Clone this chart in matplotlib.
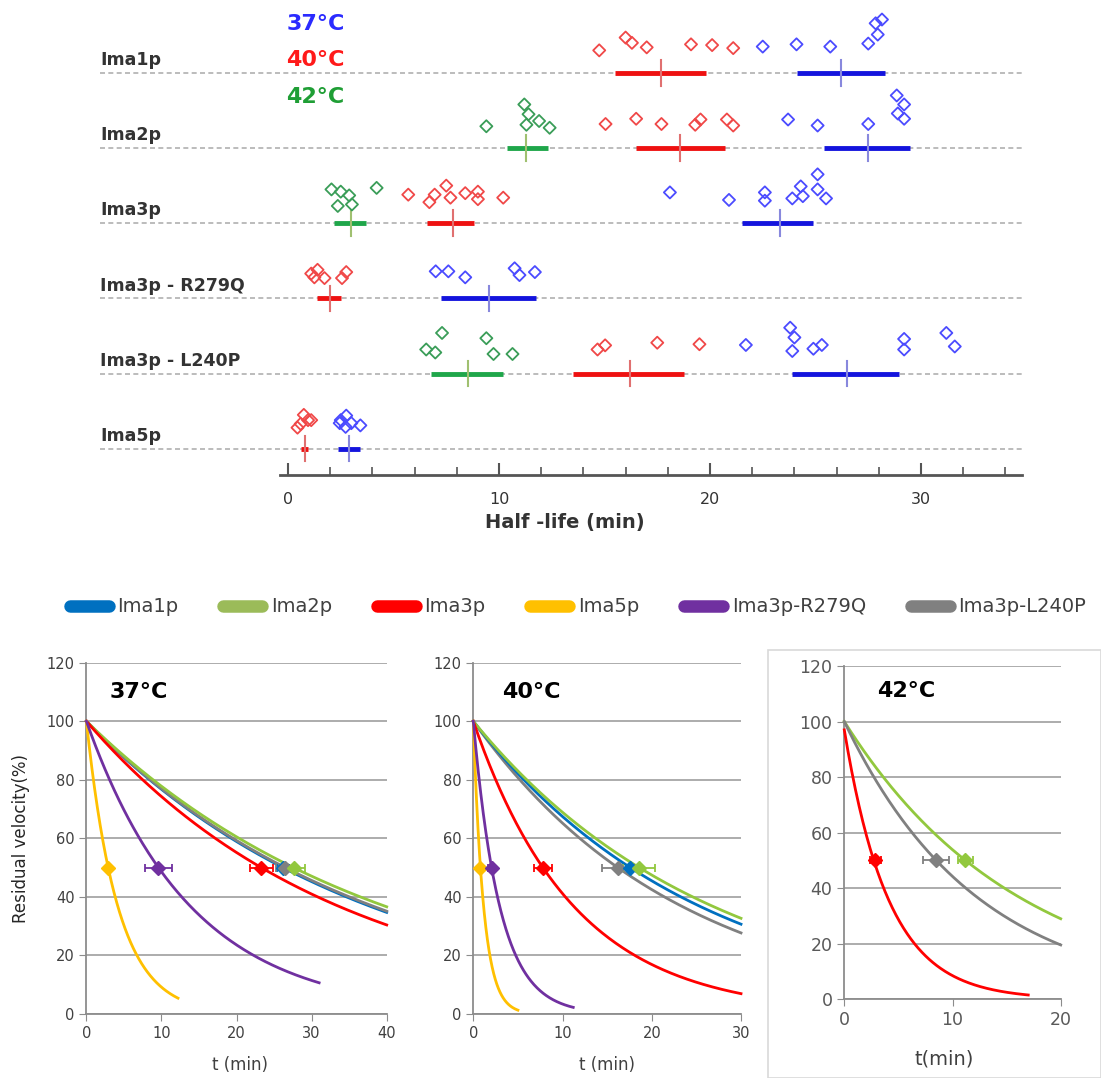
import numpy as np
import matplotlib.pyplot as plt
from matplotlib.lines import Line2D
from matplotlib.patches import Rectangle

#############################################
# strip plot data: half-lives (min) per strain
#############################################

rows = ["Ima1p", "Ima2p", "Ima3p", "Ima3p - R279Q", "Ima3p - L240P", "Ima5p"]

# individual measurements, 37 / 40 / 42 °C
pts37 = {
    "Ima1p": [22.5, 24.1, 25.7, 27.5, 27.95, 27.85, 28.15],
    "Ima2p": [23.7, 25.1, 27.5, 28.85, 29.2, 28.9, 29.2],
    "Ima3p": [18.1, 20.9, 22.6, 22.6, 23.9, 24.3, 24.4, 25.1, 25.1, 25.5],
    "Ima3p - R279Q": [7.0, 7.6, 8.4, 10.74, 10.97, 11.7],
    "Ima3p - L240P": [21.7, 23.8, 24.0, 23.9, 24.9, 25.3, 29.2, 29.2, 31.2, 31.6],
    "Ima5p": [2.45, 2.5, 2.76, 2.73, 3.0, 3.43],
}
pts40 = {
    "Ima1p": [14.75, 16.0, 16.3, 17.0, 19.1, 20.1, 21.1],
    "Ima2p": [15.05, 16.5, 17.7, 19.3, 19.55, 20.8, 21.1],
    "Ima3p": [5.7, 6.7, 6.95, 7.5, 7.7, 8.4, 9.0, 9.0, 10.2],
    "Ima3p - R279Q": [1.1, 1.25, 1.4, 1.73, 2.56, 2.76],
    "Ima3p - L240P": [14.67, 15.03, 17.5, 19.5],
    "Ima5p": [0.45, 0.6, 0.75, 0.95, 1.1],
}
pts42 = {
    "Ima2p": [9.4, 11.2, 11.4, 11.3, 11.9, 12.4],
    "Ima3p": [2.06, 2.5, 2.9, 2.36, 3.03, 4.2],
    "Ima3p - L240P": [6.55, 6.98, 7.3, 9.4, 9.74, 10.64],
}

# vertical jitter of the points above their row (row units)
jit37 = {
    "Ima1p": [0.35, 0.38, 0.35, 0.39, 0.51, 0.66, 0.71],
    "Ima2p": [0.38, 0.30, 0.32, 0.70, 0.58, 0.46, 0.39],
    "Ima3p": [0.41, 0.31, 0.41, 0.30, 0.33, 0.49, 0.36, 0.45, 0.65, 0.33],
    "Ima3p - R279Q": [0.36, 0.36, 0.28, 0.40, 0.31, 0.35],
    "Ima3p - L240P": [0.38, 0.61, 0.48, 0.30, 0.33, 0.38, 0.46, 0.32, 0.54, 0.36],
    "Ima5p": [0.34, 0.38, 0.44, 0.29, 0.34, 0.31],
}
jit40 = {
    "Ima1p": [0.30, 0.47, 0.40, 0.34, 0.38, 0.37, 0.33],
    "Ima2p": [0.32, 0.39, 0.32, 0.31, 0.38, 0.38, 0.30],
    "Ima3p": [0.38, 0.28, 0.38, 0.50, 0.34, 0.40, 0.42, 0.32, 0.34],
    "Ima3p - R279Q": [0.33, 0.28, 0.38, 0.27, 0.27, 0.35],
    "Ima3p - L240P": [0.32, 0.375, 0.41, 0.39],
    "Ima5p": [0.28, 0.33, 0.45, 0.38, 0.38],
}
jit42 = {
    "Ima2p": [0.29, 0.58, 0.45, 0.31, 0.36, 0.27],
    "Ima3p": [0.45, 0.42, 0.37, 0.23, 0.25, 0.47],
    "Ima3p - L240P": [0.32, 0.28, 0.54, 0.47, 0.26, 0.26],
}

# mean and spread bar (low, high)
mean37 = {"Ima1p": 26.2, "Ima2p": 27.5, "Ima3p": 23.3, "Ima3p - R279Q": 9.54,
          "Ima3p - L240P": 26.5, "Ima5p": 2.9}
bar37 = {"Ima1p": (24.1, 28.3), "Ima2p": (25.4, 29.5), "Ima3p": (21.5, 24.9),
         "Ima3p - R279Q": (7.25, 11.74), "Ima3p - L240P": (23.9, 28.97), "Ima5p": (2.36, 3.4)}
mean40 = {"Ima1p": 17.7, "Ima2p": 18.6, "Ima3p": 7.8, "Ima3p - R279Q": 2.0,
          "Ima3p - L240P": 16.2, "Ima5p": 0.8}
bar40 = {"Ima1p": (15.5, 19.8), "Ima2p": (16.5, 20.7), "Ima3p": (6.6, 8.8),
         "Ima3p - R279Q": (1.36, 2.53), "Ima3p - L240P": (13.5, 18.76), "Ima5p": (0.63, 0.93)}
mean42 = {"Ima2p": 11.3, "Ima3p": 3.0, "Ima3p - L240P": 8.55}
bar42 = {"Ima2p": (10.4, 12.3), "Ima3p": (2.2, 3.7), "Ima3p - L240P": (6.8, 10.2)}

#############################################
# inactivation curves: half-life and SD (min)
#############################################

strains = ["Ima1p", "Ima2p", "Ima3p", "Ima5p", "Ima3p-R279Q", "Ima3p-L240P"]
colors = ["#0070C0", "#92C83E", "#FF0000", "#FFC000", "#7030A0", "#808080"]
legend_colors = ["#0070C0", "#9BBB59", "#FF0000", "#FFC000", "#7030A0", "#808080"]

half37 = [26.2, 27.6, 23.3, 2.9, 9.6, 26.5]
sd37 = [0.8, 1.5, 1.5, 0.3, 1.75, 1.2]
tend37 = [40, 40, 40, 12.2, 31, 40]

half40 = [17.6, 18.6, 7.8, 0.8, 2.05, 16.2]
sd40 = [1.0, 1.8, 1.0, 0.2, 0.4, 1.8]
tend40 = [30, 30, 30, 5, 11.2, 30]

strains42 = ["Ima2p", "Ima3p-L240P", "Ima3p"]
half42 = [11.2, 8.5, 2.85]
sd42 = [0.7, 1.2, 0.5]
tend42 = [20, 20, 17]
start42 = [100, 100, 97]

##############
# la figure
##############

fig = plt.figure(figsize=(11.01, 10.78), dpi=100)
W, H = 1101, 1078

narrow = ["Liberation Sans Narrow", "DejaVu Sans"]

# ---------- strip plot ----------
ax0 = fig.add_axes([100 / W, 1 - 475 / H, 922 / W, 475 / H])
px_per_min = 21.1
xl = (100 - 288) / px_per_min
xr = (1022 - 288) / px_per_min
ax0.set_xlim(xl, xr)
ax0.set_ylim(-5.35, 0.97)

temp_styles = {
    37: dict(pts=pts37, jit=jit37, mean=mean37, bar=bar37, pc="#4b4bff", bc="#1414dd", tc="#8888dd"),
    40: dict(pts=pts40, jit=jit40, mean=mean40, bar=bar40, pc="#f04848", bc="#ee1111", tc="#e07070"),
    42: dict(pts=pts42, jit=jit42, mean=mean42, bar=bar42, pc="#3a9d58", bc="#1fa64a", tc="#a0c070"),
}

for i, name in enumerate(rows):
    y = -i
    ax0.plot([xl, xr], [y, y], color="#b0b0b0", lw=1.2, ls=(0, (3, 2)), zorder=1)
    ax0.text(xl, y + 0.17, name, fontsize=12.5, fontweight="bold", color="#333333",
             family=narrow, va="center", ha="left")
    for T, st in temp_styles.items():
        if name not in st["pts"]:
            continue
        xs = np.array(st["pts"][name])
        ys = y + np.array(st["jit"][name])
        ax0.scatter(xs, ys, marker="D", s=38, facecolors="none", edgecolors=st["pc"],
                    linewidths=1.3, zorder=3)
        lo, hi = st["bar"][name]
        ax0.plot([lo, hi], [y, y], color=st["bc"], lw=3.5, solid_capstyle="butt", zorder=2)
        m = st["mean"][name]
        ax0.plot([m, m], [y - 0.17, y + 0.17], color=st["tc"], lw=1.5, zorder=2)

ax0.text(1.3, 0.65, "37°C", color="#2b2bff", fontsize=16, fontweight="bold", ha="center", va="center")
ax0.text(1.3, 0.17, "40°C", color="#ff1a1a", fontsize=16, fontweight="bold", ha="center", va="center")
ax0.text(1.3, -0.32, "42°C", color="#1f9e35", fontsize=16, fontweight="bold", ha="center", va="center")

for s in ["top", "right", "left"]:
    ax0.spines[s].set_visible(False)
ax0.spines["bottom"].set_color("#555555")
ax0.spines["bottom"].set_linewidth(2)
ax0.spines["bottom"].set_bounds(-0.4, xr)
ax0.set_yticks([])
ax0.set_xticks([0, 10, 20, 30])
ax0.set_xticks(np.arange(2, 35, 2), minor=True)
ax0.tick_params(axis="x", which="major", direction="in", length=9, width=1.5, color="#555555",
                labelsize=11.5, pad=12, labelcolor="#333333")
ax0.tick_params(axis="x", which="minor", direction="in", length=6, width=1.2, color="#555555")
for lab in ax0.get_xticklabels():
    lab.set_family(narrow)
ax0.set_xlabel("Half -life (min)", fontsize=14, fontweight="bold", family=narrow, color="#333333")
ax0.xaxis.set_label_coords((565 - 100) / 922, -38 / 475)

# ---------- inactivation curves ----------
def style_axes(ax, xmax, big=False):
    ax.set_ylim(0, 120)
    ax.set_xlim(0, xmax)
    ax.set_yticks(range(0, 121, 20))
    ax.set_xticks(range(0, xmax + 1, 10))
    ax.grid(axis="y", color="#a6a6a6", lw=1.3)
    ax.set_axisbelow(True)
    for s in ["top", "right"]:
        ax.spines[s].set_visible(False)
    for s in ["left", "bottom"]:
        ax.spines[s].set_color("#8c8c8c")
        ax.spines[s].set_linewidth(1.3)
    ax.tick_params(direction="out", length=5, color="#8c8c8c",
                   labelsize=12.5 if big else 10.5, labelcolor="#404040" if not big else "#595959")


def draw_set(ax, names, halves, sds, tends, starts=None):
    for k, name in enumerate(names):
        c = colors[strains.index(name)]
        v0 = 100 if starts is None else starts[k]
        t = np.linspace(0, tends[k], 200)
        # first-order inactivation fit from the measured half-life
        v = v0 * 0.5 ** (t / halves[k])
        ax.plot(t, v, color=c, lw=2, zorder=3, clip_on=False)
        ax.errorbar(halves[k], 50, xerr=sds[k], fmt="D", color=c, ms=7, capsize=3,
                    elinewidth=1.3, capthick=1.3, zorder=4)


ax1 = fig.add_axes([86.4 / W, 1 - 1014 / H, 300.3 / W, 351.3 / H])
style_axes(ax1, 40)
order37 = [0, 5, 1, 2, 3, 4]
draw_set(ax1, [strains[j] for j in order37], [half37[j] for j in order37],
         [sd37[j] for j in order37], [tend37[j] for j in order37])
ax1.text(3.1, 110, "37°C", fontsize=16, fontweight="bold", va="center")
ax1.set_ylabel("Residual velocity(%)", fontsize=12, color="#262626")
ax1.yaxis.set_label_coords(-0.188, 0.5)
ax1.set_xlabel("t (min)", fontsize=12, color="#404040")
ax1.xaxis.set_label_coords(0.51, -0.12)

ax2 = fig.add_axes([473.3 / W, 1 - 1014 / H, 267.7 / W, 351.3 / H])
style_axes(ax2, 30)
order40 = [5, 0, 1, 2, 3, 4]
draw_set(ax2, [strains[j] for j in order40], [half40[j] for j in order40],
         [sd40[j] for j in order40], [tend40[j] for j in order40])
ax2.text(3.2, 110, "40°C", fontsize=16, fontweight="bold", va="center")
ax2.set_xlabel("t (min)", fontsize=12, color="#404040")
ax2.xaxis.set_label_coords(0.5, -0.12)

fig.patches.append(Rectangle((768 / W, 0), (W - 768) / W, (H - 650) / H, transform=fig.transFigure,
                             facecolor="none", edgecolor="#d9d9d9", lw=1.2))
ax3 = fig.add_axes([844.3 / W, 1 - 999.3 / H, 216.4 / W, 333.3 / H])
style_axes(ax3, 20, big=True)
draw_set(ax3, strains42, half42, sd42, tend42, starts=start42)
ax3.text(3.0, 111, "42°C", fontsize=16, fontweight="bold", va="center")
ax3.set_xlabel("t(min)", fontsize=14, color="#404040")
ax3.xaxis.set_label_coords(0.46, -0.152)

handles = [Line2D([], [], color=c, lw=9, solid_capstyle="round") for c in legend_colors]
fig.legend(handles, strains, loc="center", bbox_to_anchor=(578 / W, 1 - 607 / H), ncol=6,
           frameon=False, fontsize=14, handlelength=2.0, handletextpad=0.45, columnspacing=2.3,
           labelcolor="#404040")

plt.savefig("out.png", dpi=100)
